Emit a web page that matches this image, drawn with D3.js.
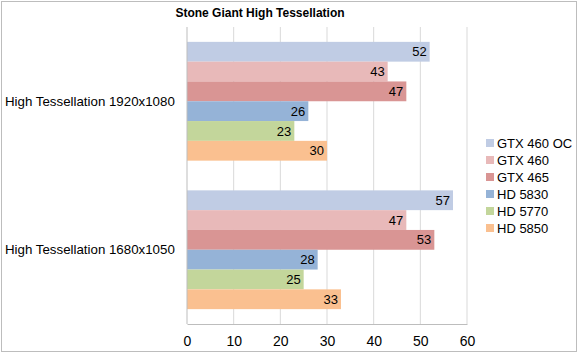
<!DOCTYPE html>
<html>
<head>
<meta charset="utf-8">
<script src="https://cdn.jsdelivr.net/npm/d3@7"></script>
<style>
  body { margin: 0; background: #fff; }
  text { font-family: "Liberation Sans", Arial, sans-serif; fill: #000; }
</style>
</head>
<body>
<svg width="580" height="353"></svg>
<script>
// Data: frame rates for each card at two resolutions
const categories = ["High Tessellation 1920x1080", "High Tessellation 1680x1050"];
const series = ["GTX 460 OC", "GTX 460", "GTX 465", "HD 5830", "HD 5770", "HD 5850"];
const values = [
    [52, 43, 47, 26, 23, 30],
    [57, 47, 53, 28, 25, 33]
];
const colors = ["#c0cce4", "#e8b9b9", "#d99594", "#95b3d7", "#c3d69b", "#fac090"];
const xTicks = [0, 10, 20, 30, 40, 50, 60];

const svg = d3.select("svg");

// outer frame
svg.append("rect")
    .attr("x", 1.5).attr("y", 1.5)
    .attr("width", 575).attr("height", 350)
    .attr("fill", "#fff").attr("stroke", "#bdbdbd");

const plotLeft = 187, plotRight = 467, plotTop = 27, plotBottom = 324;

const x = d3.scaleLinear().domain([0, 60]).range([plotLeft, plotRight]);
const y0 = d3.scaleBand().domain(categories).range([plotTop, plotBottom]).paddingInner(0.2).paddingOuter(0.1);
const y1 = d3.scaleBand().domain(series).range([0, y0.bandwidth()]);

// gridlines
svg.append("g")
    .selectAll("line")
    .data(xTicks.slice(1))
    .enter().append("line")
    .attr("x1", d => x(d)).attr("x2", d => x(d))
    .attr("y1", plotTop).attr("y2", plotBottom)
    .attr("stroke", "#d9d9d9");

// bars
const rows = categories.flatMap((c, i) => series.map((s, j) => ({ cat: c, ser: s, v: values[i][j], col: colors[j] })));

svg.append("g")
    .selectAll("rect")
    .data(rows)
    .enter().append("rect")
    .attr("x", x(0))
    .attr("y", d => y0(d.cat) + y1(d.ser))
    .attr("width", d => x(d.v) - x(0))
    .attr("height", y1.bandwidth())
    .attr("fill", d => d.col);

// value labels
svg.append("g")
    .selectAll("text")
    .data(rows)
    .enter().append("text")
    .attr("x", d => x(d.v) - 3)
    .attr("y", d => y0(d.cat) + y1(d.ser) + y1.bandwidth() / 2)
    .attr("dy", "0.35em")
    .attr("text-anchor", "end")
    .style("font-size", "13px")
    .text(d => d.v);

// axes
const xAxis = svg.append("g")
    .attr("transform", `translate(0,${plotBottom})`)
    .call(d3.axisBottom(x).tickValues(xTicks).tickSize(0).tickPadding(12));
xAxis.select(".domain").attr("stroke", "#bdbdbd");
xAxis.selectAll("text").style("font-size", "14px").attr("font-family", null);

svg.append("line")
    .attr("x1", plotLeft).attr("x2", plotLeft)
    .attr("y1", plotTop).attr("y2", plotBottom)
    .attr("stroke", "#bdbdbd");

// category labels
svg.append("g")
    .selectAll("text")
    .data(categories)
    .enter().append("text")
    .attr("x", 5)
    .attr("y", d => y0(d) + y0.bandwidth() / 2)
    .attr("dy", "0.35em")
    .style("font-size", "13.3px")
    .text(d => d);

// title
svg.append("text")
    .attr("x", 260).attr("y", 17)
    .attr("text-anchor", "middle")
    .style("font-size", "12px")
    .style("font-weight", "bold")
    .text("Stone Giant High Tessellation");

// legend
const legend = svg.append("g").attr("transform", "translate(486,143)");
series.forEach((s, i) => {
    legend.append("rect").attr("x", 0).attr("y", i * 17 - 4).attr("width", 8).attr("height", 8).attr("fill", colors[i]);
    legend.append("text").attr("x", 11).attr("y", i * 17).attr("dy", "0.35em").style("font-size", "13px").text(s);
});
</script>
</body>
</html>
